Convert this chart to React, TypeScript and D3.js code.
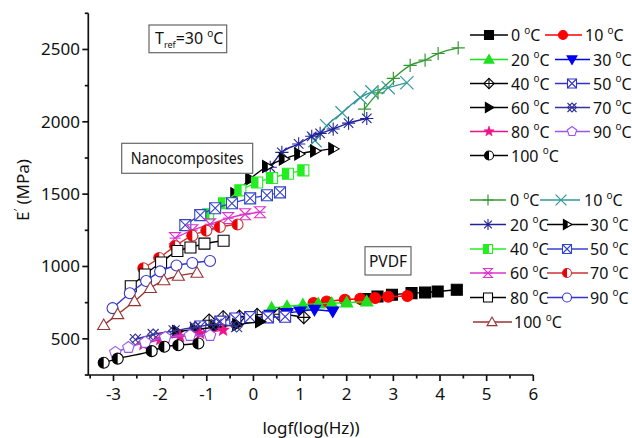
import React from 'react';
import * as d3 from 'd3';

type Pt = [number, number];

// PVDF segments: [log f, E' (MPa)]
const pvdf0: Pt[] = [[2.39, 775], [2.66, 793], [2.97, 805], [3.39, 816], [3.68, 820], [3.95, 827], [4.36, 839]];
const pvdf10: Pt[] = [[1.29, 747], [1.57, 758], [1.96, 770], [2.29, 777], [2.61, 782], [2.89, 791], [3.3, 796]];
const pvdf20: Pt[] = [[0.39, 713], [0.72, 724], [1.06, 736], [1.39, 743], [1.68, 746], [2.0, 750], [2.43, 758]];
const pvdf30: Pt[] = [[-0.3, 643], [0.0, 655], [0.36, 667], [0.72, 679], [1.0, 690], [1.31, 701], [1.7, 690]];
const pvdf40: Pt[] = [[-0.95, 628], [-0.65, 651], [-0.3, 655], [0.08, 667], [0.55, 670], [1.08, 648]];
const pvdf50: Pt[] = [[-1.14, 585], [-0.71, 619], [-0.39, 640], [-0.07, 650], [0.31, 648], [0.68, 653]];
const pvdf60: Pt[] = [[-1.64, 550], [-1.25, 564], [-0.82, 580], [-0.35, 598], [0.14, 619]];
const pvdf70: Pt[] = [[-2.53, 495], [-2.15, 530], [-1.7, 555], [-1.25, 580], [-0.8, 600], [-0.36, 585]];
const pvdf80: Pt[] = [[-2.36, 461], [-2.0, 495], [-1.57, 516], [-1.14, 537], [-0.65, 560]];
const pvdf90: Pt[] = [[-2.96, 406], [-2.68, 440], [-2.32, 475], [-1.89, 509], [-1.36, 523], [-0.93, 523]];
const pvdf100: Pt[] = [[-3.21, 335], [-2.91, 363], [-2.18, 415], [-1.91, 445], [-1.61, 456], [-1.18, 468]];

// Nanocomposite segments: [log f, E' (MPa)]
const nano0: Pt[] = [[2.38, 2088], [2.67, 2200], [3.0, 2300], [3.36, 2390], [3.68, 2426], [3.96, 2472], [4.39, 2511]];
const nano10: Pt[] = [[1.32, 1870], [1.57, 1973], [1.9, 2062], [2.29, 2167], [2.54, 2207], [2.89, 2236], [3.29, 2270]];
const nano20: Pt[] = [[0.36, 1686], [0.61, 1789], [0.97, 1847], [1.25, 1900], [1.43, 1920], [1.71, 1950], [2.04, 1991], [2.43, 2023]];
const nano30: Pt[] = [[-0.39, 1502], [-0.07, 1605], [0.29, 1691], [0.65, 1743], [0.98, 1777], [1.32, 1798], [1.71, 1813]];
const nano40: Pt[] = [[-0.97, 1361], [-0.63, 1437], [-0.28, 1526], [0.08, 1581], [0.4, 1612], [0.74, 1641], [1.07, 1664]];
const nano50: Pt[] = [[-1.46, 1286], [-1.14, 1355], [-0.82, 1403], [-0.46, 1437], [-0.07, 1471], [0.29, 1492], [0.57, 1512]];
const nano60: Pt[] = [[-1.68, 1196], [-1.31, 1251], [-0.93, 1292], [-0.54, 1334], [-0.18, 1361], [0.14, 1375]];
const nano70: Pt[] = [[-2.36, 988], [-2.02, 1059], [-1.68, 1141], [-1.31, 1213], [-1.01, 1248], [-0.72, 1273], [-0.34, 1290]];
const nano80: Pt[] = [[-2.63, 863], [-2.33, 945], [-1.98, 1028], [-1.63, 1107], [-1.35, 1131], [-1.05, 1158], [-0.64, 1178]];
const nano90: Pt[] = [[-3.02, 712], [-2.65, 815], [-2.3, 900], [-2.0, 966], [-1.65, 1007], [-1.31, 1024], [-0.93, 1038]];
const nano100: Pt[] = [[-3.21, 595], [-2.91, 670], [-2.55, 760], [-2.21, 851], [-1.92, 904], [-1.61, 935], [-1.21, 956]];

const temps = ['0', '10', '20', '30', '40', '50', '60', '70', '80', '90', '100'];
const xTicks = [-3, -2, -1, 0, 1, 2, 3, 4, 5, 6];
const yTicks = [500, 1000, 1500, 2000, 2500];

const pvdfSeries = [pvdf0, pvdf10, pvdf20, pvdf30, pvdf40, pvdf50, pvdf60, pvdf70, pvdf80, pvdf90, pvdf100];
const nanoSeries = [nano0, nano10, nano20, nano30, nano40, nano50, nano60, nano70, nano80, nano90, nano100];

type Style = { kind: string; color: string; line: string };

const pvdfStyles: Style[] = [
  { kind: 'square', color: '#000000', line: '#000000' },
  { kind: 'circle', color: '#ff0000', line: '#ff0000' },
  { kind: 'triUp', color: '#1ee01e', line: '#1ee01e' },
  { kind: 'triDown', color: '#0000f0', line: '#0000f0' },
  { kind: 'diamondPlus', color: '#000000', line: '#000000' },
  { kind: 'squareX', color: '#3333cc', line: '#3333cc' },
  { kind: 'triRight', color: '#000000', line: '#000000' },
  { kind: 'bowX', color: '#333399', line: '#333399' },
  { kind: 'star', color: '#ee1188', line: '#ee1188' },
  { kind: 'pentagon', color: '#9955ee', line: '#9955ee' },
  { kind: 'circleHalf', color: '#000000', line: '#000000' },
];

const nanoStyles: Style[] = [
  { kind: 'plus', color: '#339933', line: '#339933' },
  { kind: 'cross', color: '#339999', line: '#339999' },
  { kind: 'asterisk', color: '#222299', line: '#222299' },
  { kind: 'triRightHalf', color: '#000000', line: '#000000' },
  { kind: 'squareHalf', color: '#22ee22', line: '#22ee22' },
  { kind: 'squareX', color: '#3344cc', line: '#3344cc' },
  { kind: 'hourglass', color: '#dd33cc', line: '#dd33cc' },
  { kind: 'circleHalf', color: '#ee0000', line: '#cc3333' },
  { kind: 'squareOpen', color: '#000000', line: '#000000' },
  { kind: 'circleOpen', color: '#3333cc', line: '#3333cc' },
  { kind: 'triUpOpen', color: '#993333', line: '#993333' },
];

const FONT = "'Noto Sans', 'Open Sans', sans-serif";

function Marker({ kind, x, y, s, c, o }: { kind: string; x: number; y: number; s: number; c: string; o?: string }) {
  const h = s / 2;
  const sw = 1.1;
  const oc = o || c;
  const box = `M${x - h},${y - h}H${x + h}V${y + h}H${x - h}Z`;
  switch (kind) {
    case 'square':
      return <path d={box} fill={c} stroke={c} strokeWidth={sw} />;
    case 'squareOpen':
      return <path d={box} fill="#fff" stroke={c} strokeWidth={sw} />;
    case 'squareX':
      return (
        <g fill="none" stroke={c} strokeWidth={sw}>
          <path d={box} fill="#fff" />
          <path d={`M${x - h},${y - h}L${x + h},${y + h}M${x + h},${y - h}L${x - h},${y + h}`} />
        </g>
      );
    case 'squareHalf':
      return (
        <g>
          <path d={box} fill="#fff" stroke={c} strokeWidth={sw} />
          <rect x={x - h} y={y - h} width={s * 0.62} height={s} fill={c} />
        </g>
      );
    case 'circle':
      return <circle cx={x} cy={y} r={h} fill={c} stroke={c} strokeWidth={sw} />;
    case 'circleOpen':
      return <circle cx={x} cy={y} r={h} fill="#fff" stroke={c} strokeWidth={sw} />;
    case 'circleHalf':
      return (
        <g>
          <circle cx={x} cy={y} r={h} fill="#fff" stroke={oc} strokeWidth={sw} />
          <path d={`M${x},${y - h}A${h},${h} 0 0 0 ${x},${y + h}Z`} fill={c} />
        </g>
      );
    case 'triUp':
      return <path d={`M${x},${y - h * 1.1}L${x + h * 1.1},${y + h * 0.8}L${x - h * 1.1},${y + h * 0.8}Z`} fill={c} stroke={c} strokeWidth={sw} />;
    case 'triUpOpen':
      return <path d={`M${x},${y - h * 1.1}L${x + h * 1.1},${y + h * 0.8}L${x - h * 1.1},${y + h * 0.8}Z`} fill="#fff" stroke={c} strokeWidth={sw} />;
    case 'triDown':
      return <path d={`M${x},${y + h * 1.1}L${x + h * 1.1},${y - h * 0.8}L${x - h * 1.1},${y - h * 0.8}Z`} fill={c} stroke={c} strokeWidth={sw} />;
    case 'triRight':
      return <path d={`M${x + h * 1.1},${y}L${x - h * 0.8},${y - h * 1.1}L${x - h * 0.8},${y + h * 1.1}Z`} fill={c} stroke={c} strokeWidth={sw} />;
    case 'triRightHalf':
      return (
        <g>
          <path d={`M${x + h * 1.1},${y}L${x - h * 0.8},${y - h * 1.1}L${x - h * 0.8},${y + h * 1.1}Z`} fill="#fff" stroke={c} strokeWidth={sw} />
          <path d={`M${x - h * 0.8},${y - h * 1.1}L${x + h * 0.15},${y - h * 0.55}L${x + h * 0.15},${y + h * 0.55}L${x - h * 0.8},${y + h * 1.1}Z`} fill={c} />
        </g>
      );
    case 'diamondPlus':
      return (
        <g fill="none" stroke={c} strokeWidth={sw}>
          <path d={`M${x},${y - h * 1.15}L${x + h * 1.15},${y}L${x},${y + h * 1.15}L${x - h * 1.15},${y}Z`} fill="#fff" />
          <path d={`M${x - h * 1.15},${y}H${x + h * 1.15}M${x},${y - h * 1.15}V${y + h * 1.15}`} />
        </g>
      );
    case 'bowX':
      return (
        <g fill="none" stroke={c} strokeWidth={sw}>
          <path d={`M${x},${y - h}L${x + h},${y}L${x},${y + h}L${x - h},${y}Z`} />
          <path d={`M${x - h},${y - h}L${x + h},${y + h}M${x + h},${y - h}L${x - h},${y + h}`} />
        </g>
      );
    case 'hourglass':
      return (
        <g fill="none" stroke={c} strokeWidth={sw}>
          <path d={`M${x - h},${y - h}H${x + h}L${x - h},${y + h}H${x + h}Z`} />
          <path d={`M${x - h},${y}H${x + h}`} />
        </g>
      );
    case 'star': {
      const pts: string[] = [];
      for (let i = 0; i < 10; i++) {
        const r = i % 2 === 0 ? h * 1.2 : h * 0.5;
        const a = -Math.PI / 2 + (i * Math.PI) / 5;
        pts.push(`${x + r * Math.cos(a)},${y + r * Math.sin(a)}`);
      }
      return <polygon points={pts.join(' ')} fill={c} stroke={c} strokeWidth={0.6} />;
    }
    case 'pentagon': {
      const pts: string[] = [];
      for (let i = 0; i < 5; i++) {
        const a = -Math.PI / 2 + (i * 2 * Math.PI) / 5;
        pts.push(`${x + h * 1.1 * Math.cos(a)},${y + h * 1.1 * Math.sin(a)}`);
      }
      return <polygon points={pts.join(' ')} fill="#fff" stroke={c} strokeWidth={sw} />;
    }
    case 'plus':
      return <path d={`M${x - h * 1.2},${y}H${x + h * 1.2}M${x},${y - h * 1.2}V${y + h * 1.2}`} stroke={c} strokeWidth={1.2} />;
    case 'cross':
      return <path d={`M${x - h * 1.2},${y - h * 1.2}L${x + h * 1.2},${y + h * 1.2}M${x + h * 1.2},${y - h * 1.2}L${x - h * 1.2},${y + h * 1.2}`} stroke={c} strokeWidth={1.2} />;
    case 'asterisk': {
      const r = h * 1.2;
      const d = r * 0.72;
      return <path d={`M${x - r},${y}H${x + r}M${x},${y - r}V${y + r}M${x - d},${y - d}L${x + d},${y + d}M${x + d},${y - d}L${x - d},${y + d}`} stroke={c} strokeWidth={1.1} />;
    }
    default:
      return null;
  }
}

function Deg({ label, x, y, size }: { label: string; x: number; y: number; size: number }) {
  return (
    <text x={x} y={y} fontSize={size} fontFamily={FONT} fill="#111">
      {label + ' '}
      <tspan fontSize={size * 0.62} dy={-size * 0.45}>o</tspan>
      <tspan dy={size * 0.45}>C</tspan>
    </text>
  );
}

export default function App() {
  const x = d3.scaleLinear().domain([-3.54, 6]).range([88.3, 533.3]);
  const y = d3.scaleLinear().domain([250, 2750]).range([375, 13.3]);
  const line = d3
    .line<Pt>()
    .x((d) => x(d[0]))
    .y((d) => y(d[1]))
    .curve(d3.curveMonotoneX);

  const x0 = x.range()[0];
  const y0 = y.range()[0];
  const xMinor = d3.range(-3.5, 6.01, 0.5).filter((v) => !xTicks.includes(v));
  const yMinor = d3.range(250, 2751, 250).filter((v) => !yTicks.includes(v));

  // legend layout
  const topRows = [35, 59.5, 83.5, 107.5, 131.5, 155.5];
  const botRows = [200, 224.5, 249, 273, 297.5, 322];
  const topPos = (i: number) => {
    const row = Math.floor(i / 2);
    const col = i % 2;
    if (col === 0) return { l0: 470, l1: 508, m: 489, t: 511, y: topRows[row] };
    if (row === 0) return { l0: 545, l1: 582, m: 563, t: 585, y: topRows[row] };
    return { l0: 555, l1: 590, m: 572, t: 593, y: topRows[row] };
  };
  const botPos = (i: number) => {
    const row = Math.floor(i / 2);
    const col = i % 2;
    if (col === 0) return row === 5 ? { l0: 473, l1: 512, m: 492, t: 514, y: botRows[row] } : { l0: 470, l1: 506, m: 488, t: 510, y: botRows[row] };
    if (row === 0) return { l0: 540, l1: 580, m: 561, t: 584, y: botRows[row] };
    return { l0: 547, l1: 588, m: 567, t: 590, y: botRows[row] };
  };

  const drawGroup = (series: Pt[][], styles: Style[], key: string) =>
    series.map((pts, i) => (
      <g key={key + i}>
        <path d={line(pts) || ''} fill="none" stroke={styles[i].line} strokeWidth={1.4} />
        {pts.map((p, j) => (
          <Marker key={j} kind={styles[i].kind} x={x(p[0])} y={y(p[1])} s={11} c={styles[i].color} o={styles[i].line} />
        ))}
      </g>
    ));

  return (
    <svg width={632} height={438} style={{ position: 'absolute', left: 0, top: 0, background: '#fff' }}>
      <rect width={632} height={438} fill="#fff" />

      {/* axes */}
      <g stroke="#111" strokeWidth={1.7} fill="none">
        <path d={`M${x0},${y.range()[1]}V${y0}H${x(6)}`} />
        {xTicks.map((t) => (
          <path key={'xt' + t} d={`M${x(t)},${y0}V${y0 + 6}`} />
        ))}
        {xMinor.map((t) => (
          <path key={'xm' + t} d={`M${x(t)},${y0}V${y0 + 3.5}`} />
        ))}
        {yTicks.map((t) => (
          <path key={'yt' + t} d={`M${x0},${y(t)}H${x0 - 6}`} />
        ))}
        {yMinor.map((t) => (
          <path key={'ym' + t} d={`M${x0},${y(t)}H${x0 - 3.5}`} />
        ))}
      </g>
      <g fontFamily={FONT} fontSize={17} fill="#111">
        {xTicks.map((t) => (
          <text key={'xl' + t} x={x(t)} y={399.5} textAnchor="middle">
            {t < 0 ? '-' + Math.abs(t) : String(t)}
          </text>
        ))}
        {yTicks.map((t) => (
          <text key={'yl' + t} x={80} y={y(t) + 6} textAnchor="end">
            {t}
          </text>
        ))}
        <text x={311} y={434} textAnchor="middle">logf(log(Hz))</text>
        <text transform="translate(29,190) rotate(-90)" textAnchor="middle">
          E<tspan fontSize={11} dy={-7}>′</tspan>
          <tspan dy={7}> (MPa)</tspan>
        </text>
      </g>

      {/* curves */}
      {drawGroup(pvdfSeries, pvdfStyles, 'p')}
      {drawGroup(nanoSeries, nanoStyles, 'n')}

      {/* annotation boxes */}
      <rect x={149} y={25} width={77.7} height={27.7} fill="#fff" stroke="#666" strokeWidth={1.2} />
      <text x={155} y={44} fontFamily={FONT} fontSize={16} fill="#111">
        T<tspan fontSize={9} dy={4}>ref</tspan>
        <tspan dy={-4}>=30 </tspan>
        <tspan fontSize={10} dy={-7}>o</tspan>
        <tspan dy={7}>C</tspan>
      </text>
      <rect x={121.7} y={143.3} width={131} height={30} fill="#fff" stroke="#666" strokeWidth={1.2} />
      <text x={187.2} y={164} textAnchor="middle" fontFamily={FONT} fontSize={15.5} fill="#111" textLength={113} lengthAdjust="spacingAndGlyphs">
        Nanocomposites
      </text>
      <rect x={365} y={246.7} width={46} height={28.3} fill="#fff" stroke="#666" strokeWidth={1.2} />
      <text x={388} y={267} textAnchor="middle" fontFamily={FONT} fontSize={15.5} fill="#111">PVDF</text>

      {/* legends */}
      {temps.map((t, i) => {
        const p = topPos(i);
        const st = pvdfStyles[i];
        return (
          <g key={'lt' + i}>
            <path d={`M${p.l0},${p.y}H${p.l1}`} stroke={st.line} strokeWidth={1.5} />
            <Marker kind={st.kind} x={p.m} y={p.y} s={9} c={st.color} o={st.line} />
            <Deg label={t} x={p.t} y={p.y + 6} size={16} />
          </g>
        );
      })}
      {temps.map((t, i) => {
        const p = botPos(i);
        const st = nanoStyles[i];
        return (
          <g key={'lb' + i}>
            <path d={`M${p.l0},${p.y}H${p.l1}`} stroke={st.line} strokeWidth={1.5} />
            <Marker kind={st.kind} x={p.m} y={p.y} s={9} c={st.color} o={st.line} />
            <Deg label={t} x={p.t} y={p.y + 6} size={16} />
          </g>
        );
      })}
    </svg>
  );
}
